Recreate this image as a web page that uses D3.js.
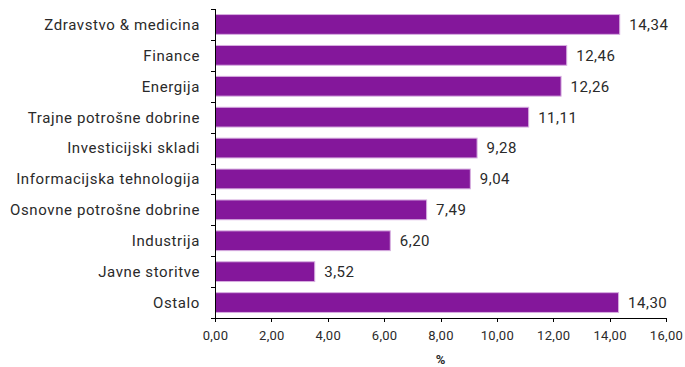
<!DOCTYPE html>
<html>
<head>
<meta charset="utf-8">
<script src="https://cdn.jsdelivr.net/npm/d3@7"></script>
<style>
body { margin: 0; background: #fff; }
text { font-family: Roboto, "DejaVu Sans Condensed", sans-serif; fill: #2a2a2a; }
.axis path, .axis line { stroke: #000; shape-rendering: crispEdges; }
</style>
</head>
<body>
<svg id="chart" width="685" height="367"></svg>
<script>
// data
var categories = ["Zdravstvo & medicina", "Finance", "Energija", "Trajne potrošne dobrine",
  "Investicijski skladi", "Informacijska tehnologija", "Osnovne potrošne dobrine",
  "Industrija", "Javne storitve", "Ostalo"];
var values = [14.34, 12.46, 12.26, 11.11, 9.28, 9.04, 7.49, 6.20, 3.52, 14.30];
var xTicks = [0, 2, 4, 6, 8, 10, 12, 14, 16];

var margin = {top: 9, left: 215, right: 19, bottom: 49};
var width = 685 - margin.left - margin.right,
    height = 367 - margin.top - margin.bottom;

var fmt = function(v) { return v.toFixed(2).replace(".", ","); };

var svg = d3.select("#chart")
  .append("g")
  .attr("transform", "translate(" + margin.left + "," + margin.top + ")");

var x = d3.scaleLinear().domain([0, 16]).range([0, width]);
var y = d3.scaleBand().domain(categories).range([0, height]).paddingInner(0.36).paddingOuter(0.18);

// bars
svg.selectAll(".bar")
  .data(values)
  .enter().append("rect")
  .attr("class", "bar")
  .attr("x", x(0) + 0.5)
  .attr("y", function(d, i) { return y(categories[i]); })
  .attr("width", function(d) { return x(d) - x(0); })
  .attr("height", y.bandwidth())
  .attr("fill", "#84179b")
  .attr("stroke", "#d7aee0")
  .attr("stroke-width", 1);

// value labels
svg.selectAll(".val")
  .data(values)
  .enter().append("text")
  .attr("class", "val")
  .attr("x", function(d) { return x(d) + 10; })
  .attr("y", function(d, i) { return y(categories[i]) + y.bandwidth() / 2; })
  .attr("dy", "0.36em")
  .style("font-size", "15px")
  .style("letter-spacing", "0.5px")
  .text(fmt);

// x axis
var xAxis = svg.append("g")
  .attr("class", "axis")
  .attr("transform", "translate(0," + height + ")")
  .call(d3.axisBottom(x).tickValues(xTicks).tickFormat(fmt).tickSize(4).tickSizeOuter(0));
xAxis.selectAll("text").style("font-size", "13px").style("letter-spacing", "0.3px").attr("dy", "1.15em");

// y axis with ticks at band boundaries
var yAxis = svg.append("g").attr("class", "axis");
yAxis.append("line")
  .attr("x1", 0.5).attr("x2", 0.5)
  .attr("y1", 0).attr("y2", height);
var step = height / categories.length;
yAxis.selectAll(".tk")
  .data(d3.range(categories.length + 1))
  .enter().append("line")
  .attr("x1", -4).attr("x2", 0.5)
  .attr("y1", function(i) { return Math.round(i * step) + 0.5; })
  .attr("y2", function(i) { return Math.round(i * step) + 0.5; });
svg.selectAll(".cat")
  .data(categories)
  .enter().append("text")
  .attr("class", "cat")
  .attr("x", -15)
  .attr("y", function(d) { return y(d) + y.bandwidth() / 2; })
  .attr("dy", "0.36em")
  .attr("text-anchor", "end")
  .style("font-size", "15px")
  .style("letter-spacing", "0.6px")
  .text(function(d) { return d; });

// axis title
svg.append("text")
  .attr("x", x(8))
  .attr("y", height + 46)
  .attr("text-anchor", "middle")
  .style("font-size", "13px")
  .style("font-weight", "bold")
  .text("%");
</script>
</body>
</html>
